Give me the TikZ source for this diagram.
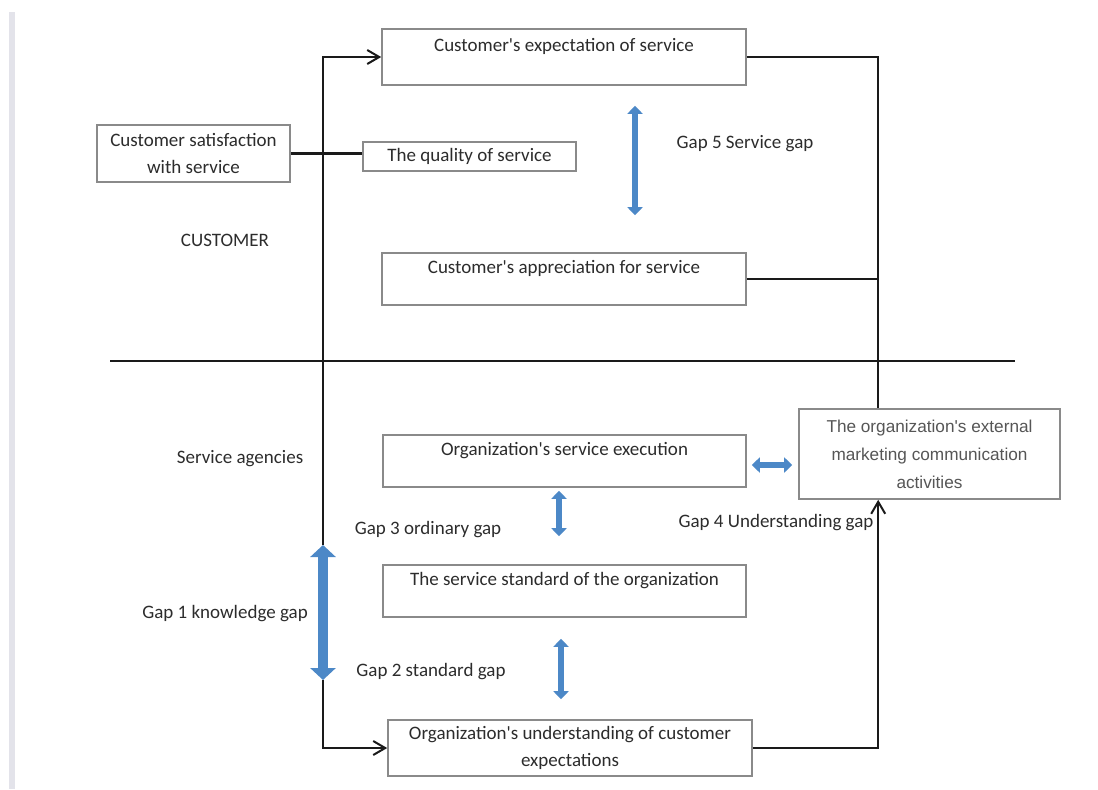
\documentclass[tikz,border=0pt]{standalone}
\usepackage{fontspec}
\setmainfont{Carlito}[Ligatures=TeXOff]
\newfontfamily\arialfont{Liberation Sans}[Ligatures=TeXOff]
\usetikzlibrary{arrows.meta,calc,positioning}
\definecolor{gpInk}{HTML}{2C2C2C}
\definecolor{gpLine}{HTML}{1A1A1A}
\definecolor{gpFrame}{HTML}{8A8A8A}
\definecolor{gpBlue}{HTML}{4C88C7}
\definecolor{gpBar}{HTML}{E3E3EA}
\tikzset{
 gapmodel/.style={font=\fontsize{9.5}{13.5}\selectfont,text=gpInk,line join=miter},
 box/.style={draw=gpFrame,line width=.8pt,fill=white,inner sep=0pt,align=center},
 topbox/.style={box,text height=7pt,text depth=13pt},
 tag/.style={inner sep=0pt},
 link/.style={draw=gpLine,line width=1.15pt},
 flow/.style={link,-{Straight Barb[length=6pt,width=7pt,line width=1pt]}},
 gaparrow/.style={draw=gpBlue,line width=3pt,{Triangle[width=7.5pt,length=4pt]}-{Triangle[width=7.5pt,length=4pt]}},
 biggap/.style={draw=gpBlue,line width=5pt,{Triangle[width=12.5pt,length=6pt]}-{Triangle[width=12.5pt,length=6pt]}}
}

\begin{document}
\begin{tikzpicture}[gapmodel,x=.5pt,y=-.5pt]
 \useasboundingbox (0,0) rectangle (1098,789);
 \fill[gpBar] (9,12) rectangle (15,789);
 % customer side
 \node[topbox,minimum width=182pt,minimum height=28pt] (expect) at (564,57) {Customer's expectation of service};
 \node[box,minimum width=96.5pt,minimum height=28.5pt] (satisf) at (193.5,153.5) {Customer satisfaction\\with service};
 \node[box,minimum width=106.5pt,minimum height=14.5pt] (quality) at (469.5,156.5) {The quality of service};
 \node[topbox,minimum width=182pt,minimum height=26pt] (apprec) at (564,279) {Customer's appreciation for service};
 \node[tag] (cust) at (225,240) {CUSTOMER};
 \node[tag] (gap5) at (745,144) {Gap 5 Service gap};
 % service agencies side
 \node[box,minimum width=130.5pt,minimum height=45pt,font=\arialfont\fontsize{8.6}{14}\selectfont,text=gpInk!80] (extern) at (929.5,454) {The organization's external\\marketing communication\\activities};
 \node[topbox,minimum width=181.5pt,minimum height=26pt] (exec) at (564.5,461) {Organization's service execution};
 \node[topbox,minimum width=181.5pt,minimum height=26pt] (standard) at (564.5,591) {The service standard of the organization};
 \node[box,minimum width=182pt,minimum height=28pt] (underst) at (570,748) {Organization's understanding of customer\\expectations};
 \node[tag] (agency) at (240,459) {Service agencies};
 \node[tag] (gap3) at (428,530) {Gap 3 ordinary gap};
 \node[tag] (gap4) at (776,523) {Gap 4 Understanding gap};
 \node[tag] (gap1) at (225,614) {Gap 1 knowledge gap};
 \node[tag] (gap2) at (431,672) {Gap 2 standard gap};
 % connectors
 \coordinate (dl) at (110,361);
 \coordinate (dr) at (1015,361);
 \draw[link,line width=1.4pt] (dl) -- (dr);
 \coordinate (g1a) at (323,545);
 \coordinate (g1b) at (323,680);
 \coordinate (extin) at ($(extern.north west)+(40pt,0)$);
 \coordinate (extout) at ($(extern.south west)+(40pt,0)$);
 \draw[flow] (g1a) |- (expect.west);
 \draw[flow] (g1b) |- (underst.west);
 \draw[link] (satisf.east) -- (satisf.east -| quality.west);
 \draw[link] (expect.east) -| (extin);
 \draw[link] (apprec.east) -- (apprec.east -| extin);
 \draw[flow] (underst.east) -| (extout);
 % gaps
 \draw[biggap] (g1a) -- (g1b);
 \draw[gaparrow] ($(expect.south)+(35.5pt,-10pt)$) -- ($(apprec.north)+(35.5pt,18.5pt)$);
 \draw[gaparrow] ($(exec.south)+(-2.75pt,-1.5pt)$) -- ($(standard.north)+(-2.75pt,14pt)$);
 \draw[gaparrow] ($(standard.south)+(-1.75pt,-10.5pt)$) -- ($(underst.north)+(-4.5pt,10pt)$);
 \draw[gaparrow] ($(exec.east)+(2.5pt,-2pt)$) -- ($(extern.west)+(-3pt,-5.5pt)$);
\end{tikzpicture}
\end{document}
